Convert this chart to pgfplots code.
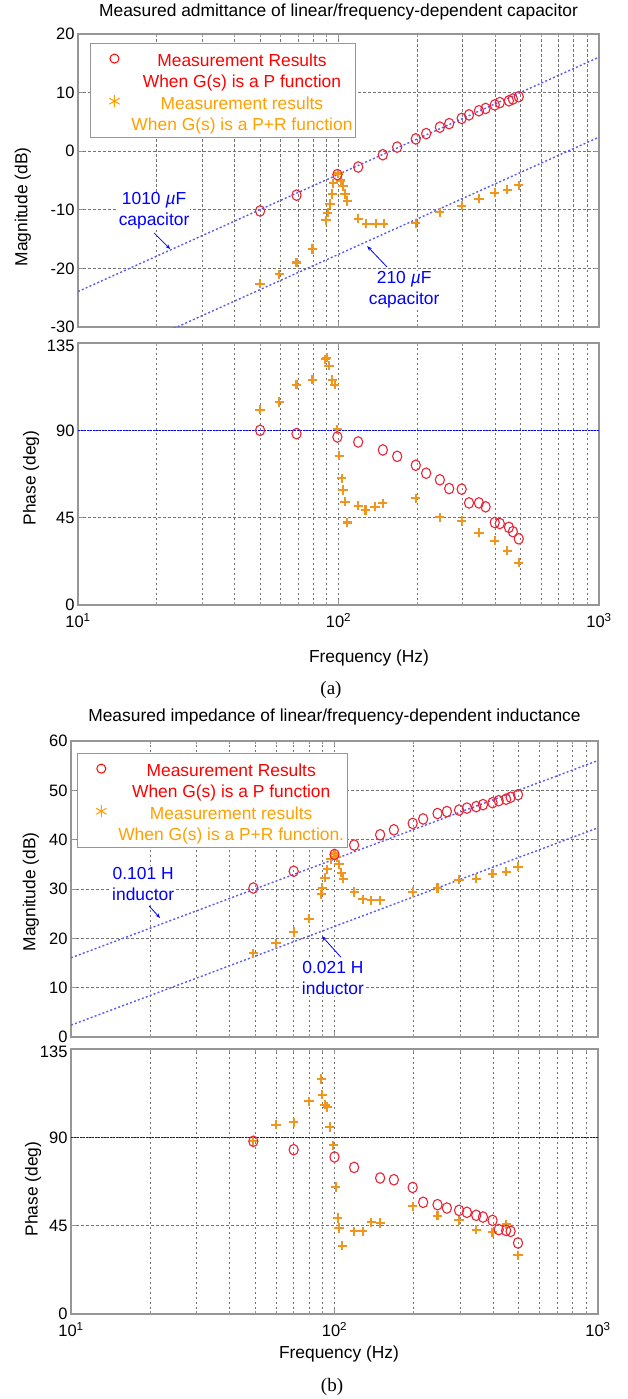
\documentclass[border=0pt]{standalone}
\usepackage{fontspec}
\setmainfont{Liberation Sans}
\newfontfamily\timesfont{Liberation Serif}
\usepackage{pgfplots}
\pgfplotsset{compat=1.18}
\usetikzlibrary{arrows.meta}

\definecolor{circ}{RGB}{235,35,55}
\definecolor{starc}{RGB}{240,150,30}
\definecolor{orng}{RGB}{255,160,0}
\definecolor{refblue}{RGB}{90,90,245}
\definecolor{annblue}{RGB}{0,0,255}
\definecolor{gridc}{RGB}{115,115,115}
\definecolor{framec}{RGB}{150,150,150}

\tikzset{ann/.style={fill=white, align=center, text=annblue, inner sep=1pt, font=\fontsize{17.4}{21}\selectfont}}

\pgfplotsset{
  every axis/.append style={
    scale only axis, xmin=10, xmax=1000,
    xtick={10,100,1000},
    minor xtick={20,30,40,50,60,70,80,90,200,300,400,500,600,700,800,900},
    xmajorgrids, xminorgrids, ymajorgrids,
    grid style={draw=gridc, line width=0.8pt, dash pattern=on 2.5pt off 2.5pt},
    minor grid style={draw=gridc, line width=0.8pt, dash pattern=on 2.5pt off 2.5pt},
    axis line style={draw=framec, line width=1.3pt},
    tick style={draw=framec, line width=0.8pt},
    major tick length=5pt, minor tick length=3pt,
    ticklabel style={font=\fontsize{16.5}{19}\selectfont},
    xticklabel style={yshift=-5pt},
    label style={font=\fontsize{17.4}{21}\selectfont},
    title style={font=\fontsize{17.4}{21}\selectfont},
  },
  phaseax/.style={ymin=0, ymax=135, ytick={0,45,90},
    extra y ticks={135},
    extra y tick style={grid=none, yticklabel style={yshift=-3pt}},
    yticklabel={\pgfmathprintnumber[assume math mode=true]{\tick}}},
  mycirc/.style={only marks, mark=o, mark size=4.6pt, line width=1.1pt, draw=circ, mark options={yscale=1.15}},
  mystar/.style={only marks, mark=+, mark size=4.6pt, line width=2.1pt, draw=starc},
  myref/.style={refblue, line width=1.4pt, dash pattern=on 2pt off 2.2pt},
  legcirc/.style={legend image code/.code={\path[draw=none,fill=none] (-22pt,-2pt) rectangle (12pt,2pt);
      \draw[red, line width=1pt] plot[mark=o, mark size=4.5pt] coordinates {(0pt,0pt)};}},
  legstar/.style={legend image code/.code={\path[draw=none,fill=none] (-22pt,-2pt) rectangle (12pt,2pt);
      \draw[orng, line width=1pt] plot[mark=asterisk, mark size=6pt] coordinates {(0pt,0pt)};}},
}

% (a) admittance, P function
\pgfplotstableread{
f mag ph
50 -10.2 90.0
69 -7.5 88.3
99 -4.0 86.6
119 -2.7 84.0
148 -0.6 79.9
168 0.7 76.6
198 2.1 72.0
217 3.0 67.9
245 4.1 64.5
266 4.7 60.0
297 5.6 59.7
317 6.2 52.6
346 6.9 52.6
367 7.3 50.6
398 7.9 42.5
416 8.3 42.0
451 8.6 40.0
467 8.9 37.8
492 9.3 34.1
}\acirc
% (a) P+R, magnitude
\pgfplotstableread{
f mag
50 -22.6
59.3 -21.0
69 -19.0
79.5 -16.7
89.5 -11.8
91 -10.5
92.8 -9.0
94.5 -7.3
95.5 -5.5
99.5 -3.8
102 -5.0
104 -6.0
106 -7.3
108 -8.5
119 -11.5
128 -12.4
139 -12.4
149 -12.4
198 -12.3
245 -10.4
297 -9.3
346 -8.1
398 -7.1
445 -6.6
492 -5.8
}\astarm
% (a) P+R, phase
\pgfplotstableread{
f ph
50 100.6
59.3 104.6
69 113.5
79.5 116.1
88.9 126.7
90 127.5
92 123.3
94.5 116.1
96.6 113.5
99 90.6
100.7 76.9
102.8 65.3
104 59.3
106 53.3
108 42.5
119 51.2
127 49.0
138 50.7
148 52.4
198 55.0
245 45.2
297 43.3
346 37.3
398 33.2
445 28.0
492 21.8
}\astarp
% (b) impedance, P function
\pgfplotstableread{
f mag ph
49.2 30.2 88.0
70 33.6 83.7
100 37.0 80.0
118.7 38.9 74.7
149 41.0 69.3
168 42.0 68.4
198 43.3 64.5
217 44.2 56.9
246 45.3 55.7
267 45.7 54.0
297 46.0 52.8
318 46.4 51.8
345 46.7 50.3
366 47.1 49.4
398 47.5 47.7
420 47.9 43.0
448 48.2 42.6
466 48.6 42.1
497 49.1 36.2
}\bcirc
% (b) P+R, magnitude
\pgfplotstableread{
f mag
49.2 17.0
60 19.0
70 21.3
80 24.0
89 28.9
90 30.2
92 32.3
94 34.0
97 36.0
100 37.2
102 36.4
104 35.0
106 33.3
108 32.1
119 29.4
128 27.9
138 27.7
149 27.7
198 29.4
246 30.2
297 31.9
345 32.1
398 33.1
448 33.5
497 34.5
}\bstarm
% (b) P+R, phase
\pgfplotstableread{
f ph
49.2 88.0
60 96.5
70 97.6
80 108.3
89 119.7
90 111.7
92 106.6
94 105.5
96 95.3
99 85.9
101 64.7
103 48.9
104 43.8
107 34.8
119 42.1
128 42.1
138 46.7
149 46.4
198 54.8
246 50.1
297 47.7
345 43.0
398 41.6
448 45.8
497 29.9
}\bstarp

\begin{document}
\begin{tikzpicture}[font=\fontsize{17.4}{21}\selectfont]
\useasboundingbox (0,0) rectangle (627pt,-1399pt);

% ---------- (a) magnitude
\begin{semilogxaxis}[width=521pt, height=293pt, at={(78pt,-327pt)}, anchor=south west,
  ymin=-30, ymax=20, ytick={-30,-20,...,20}, xticklabels={},
  yticklabel={\pgfmathprintnumber[assume math mode=true]{\tick}},
  title={Measured admittance of linear/frequency-dependent capacitor},
  title style={at={(axis description cs:0.5,1)}, anchor=center, yshift=16pt},
  ylabel={Magnitude (dB)},
  ylabel style={at={(axis description cs:-0.1056,0.41)}, anchor=center},
  legend style={at={(0.023,0.969)}, anchor=north west, draw=framec, line width=1pt, fill=white,
      inner xsep=2pt, inner ysep=3pt, row sep=-2.7pt, column sep=4pt,
      nodes={inner sep=1pt, text height=19pt, text depth=3pt}},
  legend cell align=center]
\addplot[myref, forget plot] coordinates {(10,-23.95) (1000,16.05)};
\addplot[myref, forget plot] coordinates {(10,-37.6) (1000,2.4)};
\addplot[mystar, forget plot] table[x=f,y=mag] {\astarm};
\addplot[mycirc, forget plot] table[x=f,y=mag] {\acirc};
\addlegendimage{legcirc}
\addlegendentry[text=red]{Measurement Results}
\addlegendimage{empty legend}
\addlegendentry[text=red]{When G(s) is a P function}
\addlegendimage{legstar}
\addlegendentry[text=orng]{Measurement results}
\addlegendimage{empty legend}
\addlegendentry[text=orng]{When G(s) is a P+R function}
\node[ann] at (rel axis cs:0.146,0.396) {1010 \textit{µ}F\\capacitor};
\draw[annblue, line width=0.8pt, -{Stealth[length=5pt]}] (rel axis cs:0.146,0.321) -- (rel axis cs:0.177,0.266);
\node[ann] at (rel axis cs:0.626,0.126) {210 \textit{µ}F\\capacitor};
\draw[annblue, line width=0.8pt, -{Stealth[length=5pt]}] (rel axis cs:0.593,0.205) -- (rel axis cs:0.555,0.276);
\end{semilogxaxis}

% ---------- (a) phase
\begin{semilogxaxis}[width=521pt, height=262pt, at={(78pt,-605pt)}, anchor=south west,
  phaseax,
  xticklabels={10\textsuperscript{1},10\textsuperscript{2},10\textsuperscript{3}},
  xlabel={Frequency (Hz)},
  xlabel style={at={(axis description cs:0.5585,0)}, anchor=center, yshift=-53pt},
  ylabel={Phase (deg)},
  ylabel style={at={(axis description cs:-0.090,0.485)}, anchor=center}]
\addplot[annblue, line width=1.4pt, dash pattern=on 1.5pt off 1.5pt] coordinates {(10,90) (1000,90)};
\addplot[mystar] table[x=f,y=ph] {\astarp};
\addplot[mycirc] table[x=f,y=ph] {\acirc};
\end{semilogxaxis}

\node[font=\timesfont\fontsize{19}{22}\selectfont] at (331pt,-690pt) {(a)};

% ---------- (b) magnitude
\begin{semilogxaxis}[width=527pt, height=296pt, at={(71pt,-1037pt)}, anchor=south west,
  ymin=0, ymax=60, ytick={0,10,...,60}, xticklabels={},
  yticklabel={\pgfmathprintnumber[assume math mode=true]{\tick}},
  title={Measured impedance of linear/frequency-dependent inductance},
  title style={at={(axis description cs:0.5,1)}, anchor=center, yshift=18pt},
  ylabel={Magnitude (dB)},
  ylabel style={at={(axis description cs:-0.076,0.49)}, anchor=center},
  legend style={at={(0.011,0.959)}, anchor=north west, draw=framec, line width=1pt, fill=white,
      inner xsep=2pt, inner ysep=3pt, row sep=-2.7pt, column sep=4pt,
      nodes={inner sep=1pt, text height=19pt, text depth=3pt}},
  legend cell align=center]
\addplot[myref, forget plot] coordinates {(10,16.05) (1000,56.05)};
\addplot[myref, forget plot] coordinates {(10,2.41) (1000,42.41)};
\addplot[mystar, forget plot] table[x=f,y=mag] {\bstarm};
\addplot[mycirc, forget plot] table[x=f,y=mag] {\bcirc};
\addlegendimage{legcirc}
\addlegendentry[text=red]{Measurement Results}
\addlegendimage{empty legend}
\addlegendentry[text=red]{When G(s) is a P function}
\addlegendimage{legstar}
\addlegendentry[text=orng]{Measurement results}
\addlegendimage{empty legend}
\addlegendentry[text=orng]{When G(s) is a P+R function.}
\node[ann] at (rel axis cs:0.137,0.517) {0.101 H\\inductor};
\draw[annblue, line width=0.8pt, -{Stealth[length=5pt]}] (rel axis cs:0.148,0.443) -- (rel axis cs:0.169,0.402);
\node[ann] at (rel axis cs:0.497,0.199) {0.021 H\\inductor};
\draw[annblue, line width=0.8pt, -{Stealth[length=5pt]}] (rel axis cs:0.512,0.270) -- (rel axis cs:0.476,0.341);
\end{semilogxaxis}

% ---------- (b) phase
\begin{semilogxaxis}[width=527pt, height=265pt, at={(71pt,-1314pt)}, anchor=south west,
  phaseax,
  xticklabels={10\textsuperscript{1},10\textsuperscript{2},10\textsuperscript{3}},
  xlabel={Frequency (Hz)},
  xlabel style={at={(axis description cs:0.5085,0)}, anchor=center, yshift=-40pt},
  ylabel={Phase (deg)},
  ylabel style={at={(axis description cs:-0.072,0.472)}, anchor=center}]
\addplot[annblue, line width=1.4pt, dash pattern=on 1.5pt off 1.5pt] coordinates {(10,90) (1000,90)};
\addplot[mystar] table[x=f,y=ph] {\bstarp};
\addplot[mycirc] table[x=f,y=ph] {\bcirc};
\end{semilogxaxis}

\node[font=\timesfont\fontsize{19}{22}\selectfont] at (332pt,-1387pt) {(b)};
\end{tikzpicture}
\end{document}
